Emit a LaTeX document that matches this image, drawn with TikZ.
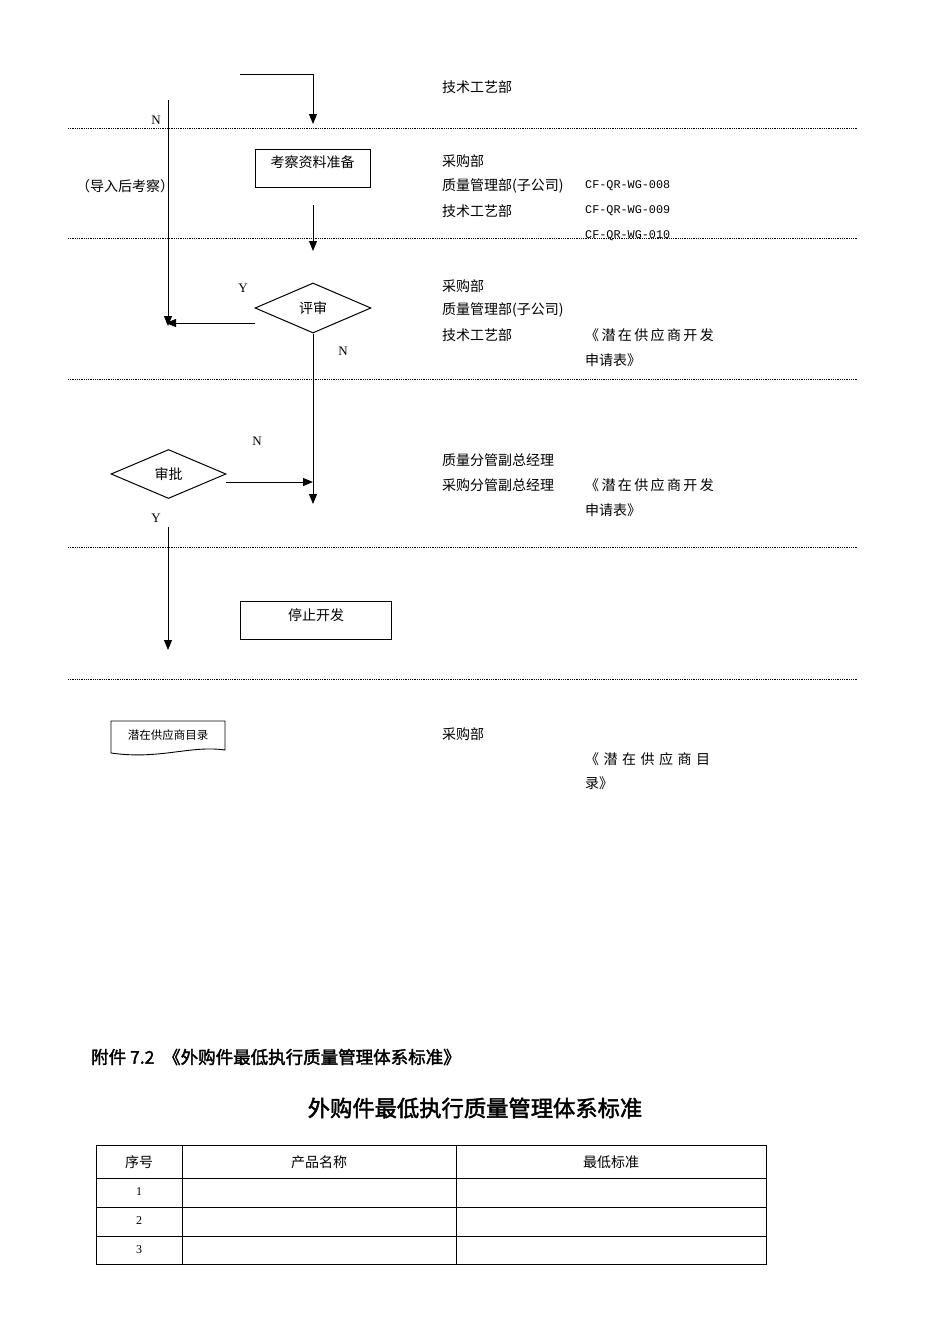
\documentclass[tikz,border=0pt]{standalone}
\usepackage{fontspec}
\setmainfont{Liberation Serif}
\newfontfamily\cjk{Noto Sans CJK SC}
\newfontfamily\cjkb{Noto Sans CJK SC}[FakeBold=2]
\newfontfamily\cjksp{Noto Sans CJK SC}[LetterSpace=17]
\newfontfamily\codef{Liberation Mono}
\usetikzlibrary{shapes.geometric,arrows.meta}
\begin{document}
\begin{tikzpicture}[x=1pt,y=-1pt,
  txt/.style={anchor=west,inner sep=0pt,font=\cjk\fontsize{14}{16}\selectfont},
  stxt/.style={anchor=west,inner sep=0pt,font=\cjksp\fontsize{14}{16}\selectfont},
  lbl/.style={inner sep=0pt,font=\fontsize{13}{15}\selectfont},
  code/.style={anchor=west,inner sep=0pt,font=\codef\fontsize{11.8}{13}\selectfont},
  sep/.style={densely dotted,line width=0.8pt},
  arr/.style={-{Triangle[length=10pt,width=8pt]},line width=1pt},
  boxn/.style={draw,line width=1pt,font=\cjk\fontsize{14}{16}\selectfont},
  dia/.style={draw,diamond,aspect=2.3,line width=1pt,inner sep=0pt,font=\cjk\fontsize{14}{16}\selectfont}]
\useasboundingbox (0,0) rectangle (950,1344);
\foreach \yy in {128,238,379,547,679} \draw[sep] (68,\yy) -- (857,\yy);
% nodes
\node[boxn,minimum width=115pt,minimum height=38pt] (prep) at (312.5,168) {};
\node[inner sep=0pt,font=\cjk\fontsize{14}{16}\selectfont] at (312.5,162) {考察资料准备};
\node[dia,minimum width=116pt,minimum height=50pt] (rev) at (313,308) {评审};
\node[dia,minimum width=115pt,minimum height=49pt] (appr) at (168.5,474) {审批};
\node[draw,line width=1pt,minimum width=151pt,minimum height=38pt] (stop) at (315.5,620) {};
\node[inner sep=0pt,font=\cjk\fontsize{14}{16}\selectfont] at (316,615) {停止开发};
% document
\draw[line width=0.9pt] (111,721) -- (225,721) -- (225,750) .. controls (190,745) and (160,760) .. (111,753) -- cycle;
\node[inner sep=0pt,font=\cjk\fontsize{11.5}{13}\selectfont] (dir) at (168,735) {潜在供应商目录};
% coordinates
\coordinate (t0) at (240,74); \coordinate (t1) at (313,74); \coordinate (t2) at (313,124);
\coordinate (l0) at (168,100); \coordinate (l1) at (168,326);
\coordinate (a0) at (313,205); \coordinate (a1) at (313,251);
\coordinate (y0) at (255,323); \coordinate (y1) at (166,323);
\coordinate (n1) at (313,504);
\coordinate (h0) at (226,482); \coordinate (h1) at (313,482);
\coordinate (s0) at (168,527); \coordinate (s1) at (168,650);
\draw[arr] (t0) -- (t1) -- (t2);
\draw[arr] (l0) -- (l1);
\draw[arr] (a0) -- (a1);
\draw[arr] (y0) -- (y1);
\draw[arr] (rev.south) -- (n1);
\draw[arr] (h0) -- (h1);
\draw[arr] (s0) -- (s1);
% labels
\node[lbl] at (156,120) {N};
\node[lbl] at (243,288) {Y};
\node[lbl] at (343,351) {N};
\node[lbl] at (257,441) {N};
\node[lbl] at (156,518) {Y};
\node[txt] at (76,186) {（导入后考察）};
% right texts
\node[txt] at (442,87) {技术工艺部};
\node[txt] at (442,161) {采购部};
\node[txt] at (442,186) {质量管理部(子公司)};
\node[txt] at (442,211) {技术工艺部};
\node[code] at (585,186) {CF-QR-WG-008};
\node[code] at (585,211) {CF-QR-WG-009};
\node[code] at (585,236) {CF-QR-WG-010};
\node[txt] at (442,286) {采购部};
\node[txt] at (442,310) {质量管理部(子公司)};
\node[txt] at (442,335) {技术工艺部};
\node[stxt] at (585,335) {《潜在供应商开发};
\node[txt] at (585,360) {申请表》};
\node[txt] at (442,460) {质量分管副总经理};
\node[txt] at (442,485) {采购分管副总经理};
\node[stxt] at (585,485) {《潜在供应商开发};
\node[txt] at (585,510) {申请表》};
\node[txt] at (442,734) {采购部};
\node[txt] at (585,759) {《\hspace{4.5pt}潜\hspace{4.5pt}在\hspace{4.5pt}供\hspace{4.5pt}应\hspace{4.5pt}商\hspace{4.5pt}目};
\node[txt] at (585,783) {录》};
% appendix
\node[anchor=west,inner sep=0pt,font=\cjkb\fontsize{17.5}{20}\selectfont] at (91,1057) {附件 7.2 \;《外购件最低执行质量管理体系标准》};
\node[inner sep=0pt,font=\cjkb\fontsize{22.3}{25}\selectfont] (title) at (475,1108) {外购件最低执行质量管理体系标准};
% table
\draw[line width=0.9pt] (96,1145) rectangle (766,1264);
\foreach \yy in {1178,1207,1236} \draw[line width=0.9pt] (96,\yy) -- (766,\yy);
\foreach \xx in {182,456} \draw[line width=0.9pt] (\xx,1145) -- (\xx,1264);
\node[inner sep=0pt,font=\cjk\fontsize{14}{16}\selectfont] at (139,1162) {序号};
\node[inner sep=0pt,font=\cjk\fontsize{14}{16}\selectfont] at (319,1162) {产品名称};
\node[inner sep=0pt,font=\cjk\fontsize{14}{16}\selectfont] at (611,1162) {最低标准};
\node[lbl,font=\fontsize{12}{13}\selectfont] at (139,1192) {1};
\node[lbl,font=\fontsize{12}{13}\selectfont] at (139,1221) {2};
\node[lbl,font=\fontsize{12}{13}\selectfont] at (139,1250) {3};
\end{tikzpicture}
\end{document}
